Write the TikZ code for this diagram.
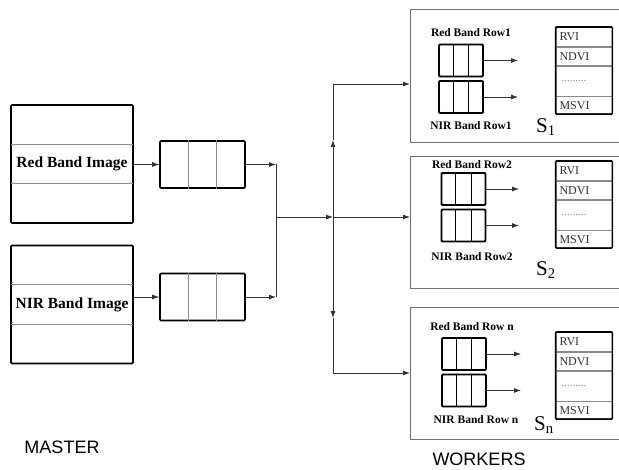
\documentclass[tikz,border=0pt]{standalone}
\usepackage{fontspec}
\setmainfont{Liberation Serif}
\newfontfamily\labelsans{Liberation Sans}
\usetikzlibrary{calc,positioning,arrows.meta}
\definecolor{splitgrey}{HTML}{8A8A8A}
\definecolor{framegrey}{HTML}{707070}
\definecolor{cellink}{HTML}{333333}
\tikzset{
  imgbox/.style  = {draw=black, line width=1.6pt, rounded corners=1pt,
                    minimum width=122pt, minimum height=118pt, inner sep=0pt},
  band/.style    = {font=\fontsize{15.5}{16}\selectfont\bfseries,
                    minimum width=122pt, minimum height=39pt, inner sep=0pt},
  queue/.style   = {draw=black, line width=1.6pt, rounded corners=1pt,
                    minimum width=85pt, minimum height=47pt, inner sep=0pt},
  rowq/.style    = {queue, line width=1.9pt, minimum width=44pt, minimum height=32pt},
  split/.style   = {draw=splitgrey, line width=0.9pt},
  rowsplit/.style= {draw=black, line width=0.9pt},
  worker/.style  = {draw=framegrey, line width=1.1pt, fill=white, anchor=north west,
                    minimum width=212pt, minimum height=132pt, inner sep=0pt},
  rowlbl/.style  = {font=\fontsize{11.5}{12}\selectfont\bfseries, inner sep=1pt},
  cell/.style    = {draw=splitgrey, line width=0.8pt, anchor=north, align=left,
                    text width=49pt, inner xsep=3.5pt, inner ysep=0pt,
                    font=\fontsize{12}{12}\selectfont, text=cellink},
  tabframe/.style= {draw=black, line width=1.6pt, rounded corners=1pt},
  snode/.style   = {font=\fontsize{21}{21}\selectfont, anchor=west, inner sep=0pt},
  wire/.style    = {draw=black!80, line width=0.8pt},
  flow/.style    = {wire, -{Latex[length=7pt,width=5pt]}},
  caption/.style = {font=\labelsans\fontsize{18}{18}\selectfont, inner sep=0pt},
}

\begin{document}
\begin{tikzpicture}[x=1pt, y=-1pt]
    \useasboundingbox (0,0) rectangle (619,470);
    \fill[white] (0,0) rectangle (619,470);

    % ---------------- master
    \node[imgbox] (rimg) at (72,164) {};
    \node[band] (rband) at (rimg.center) {Red Band Image};
    \node[imgbox] (nimg) at (72,304.5) {};
    \node[band] (nband) at (nimg.center) {NIR Band Image};
    \foreach \b in {rband, nband} {
      \draw[split] (\b.north west) -- (\b.north east);
      \draw[split] (\b.south west) -- (\b.south east);
    }

    \node[queue] (rq) at (202.5,164.5) {};
    \node[queue] (nq) at (202.5,297) {};

    \draw[flow] (rq.west -| rimg.east) -- (rq.west);
    \draw[flow] (nq.west -| nimg.east) -- (nq.west);

    \node[caption] (mlbl) at (62,447) {MASTER};

    % ---------------- scatter
    \coordinate (jt) at (276,164.5);
    \coordinate (jb) at (276,297);
    \coordinate (hub) at (333,217);
    \coordinate (up) at (333,140);
    \coordinate (top) at (333,84);
    \coordinate (dn) at (333,318);
    \coordinate (bot) at (333,373);

    \draw[flow] (rq.east) -- (jt);
    \draw[flow] (nq.east) -- (jb);
    \draw[wire] (jt) -- (jb);
    \draw[flow] (hub -| jt) -- (hub);
    \draw[flow] (hub) -- (up);
    \draw[wire] (up) -- (top);
    \draw[flow] (hub) -- (dn);
    \draw[wire] (dn) -- (bot);

    % ---------------- workers
    \node[worker, minimum height=133pt] (w1) at (410,9) {};
    \node[worker] (w2) at (410,156) {};
    \node[worker] (w3) at (410,307) {};

    \draw[flow] (top) -- (top -| w1.west);
    \draw[flow] (hub) -- (hub -| w2.west);
    \draw[flow] (bot) -- (bot -| w3.west);

    % worker 1
    \node[rowlbl] (r1l) at (471,33) {Red Band Row1};
    \node[rowq] (q1a) at (461,60.5) {};
    \node[rowq] (q1b) at (461,97) {};
    \node[rowlbl] (n1l) at (471,126) {NIR Band Row1};
    \node[snode] (s1) at (536,127) {S\textsubscript{1}};
    \coordinate (e1a) at (518,60.5);
    \coordinate (e1b) at (518,97);

    % worker 2
    \node[rowlbl] (r2l) at (472,165) {Red Band Row2};
    \node[rowq] (q2a) at (463.5,189) {};
    \node[rowq] (q2b) at (463.5,225.5) {};
    \node[rowlbl] (n2l) at (472,257) {NIR Band Row2};
    \node[snode] (s2) at (536,270) {S\textsubscript{2}};
    \coordinate (e2a) at (519,189);
    \coordinate (e2b) at (519,225.5);

    % worker 3
    \node[rowlbl] (r3l) at (472,327) {Red Band Row n};
    \node[rowq] (q3a) at (464,354) {};
    \node[rowq] (q3b) at (464,390.5) {};
    \node[rowlbl] (n3l) at (476,420) {NIR Band Row n};
    \node[snode] (s3) at (534,425) {S\textsubscript{n}};
    \coordinate (e3a) at (521,354);
    \coordinate (e3b) at (521,390.5);

    \foreach \a/\b in {q1a/e1a, q1b/e1b, q2a/e2a, q2b/e2b, q3a/e3a, q3b/e3b}
      {\draw[flow] (\a.east) -- (\b);}

    % index tables
    \foreach \t/\ty in {t1/27, t2/161, t3/332} {
      \node[cell, minimum height=19pt] (\t-rvi) at (584,\ty) {RVI};
      \node[cell, minimum height=18pt, below=0pt of \t-rvi] (\t-ndvi) {NDVI};
      \node[cell, minimum height=30pt, below=0pt of \t-ndvi] (\t-dots)
        {\hspace{2pt}\textcolor{splitgrey}{\fontsize{11}{11}\selectfont.........}};
      \node[cell, minimum height=17pt, below=0pt of \t-dots] (\t-msvi) {MSVI};
      \draw[tabframe] (\t-rvi.north west) rectangle (\t-msvi.south east);
    }

    % queue slots
    \foreach \q in {rq, nq} {
      \draw[split] ($(\q.north west)!1/3!(\q.north east)$) -- ($(\q.south west)!1/3!(\q.south east)$);
      \draw[split] ($(\q.north west)!2/3!(\q.north east)$) -- ($(\q.south west)!2/3!(\q.south east)$);
    }
    \foreach \q in {q1a, q1b, q2a, q2b, q3a, q3b} {
      \draw[rowsplit] ($(\q.north west)!1/3!(\q.north east)$) -- ($(\q.south west)!1/3!(\q.south east)$);
      \draw[rowsplit] ($(\q.north west)!2/3!(\q.north east)$) -- ($(\q.south west)!2/3!(\q.south east)$);
    }

    \node[caption] (wlbl) at (479,459) {WORKERS};
\end{tikzpicture}
\end{document}
